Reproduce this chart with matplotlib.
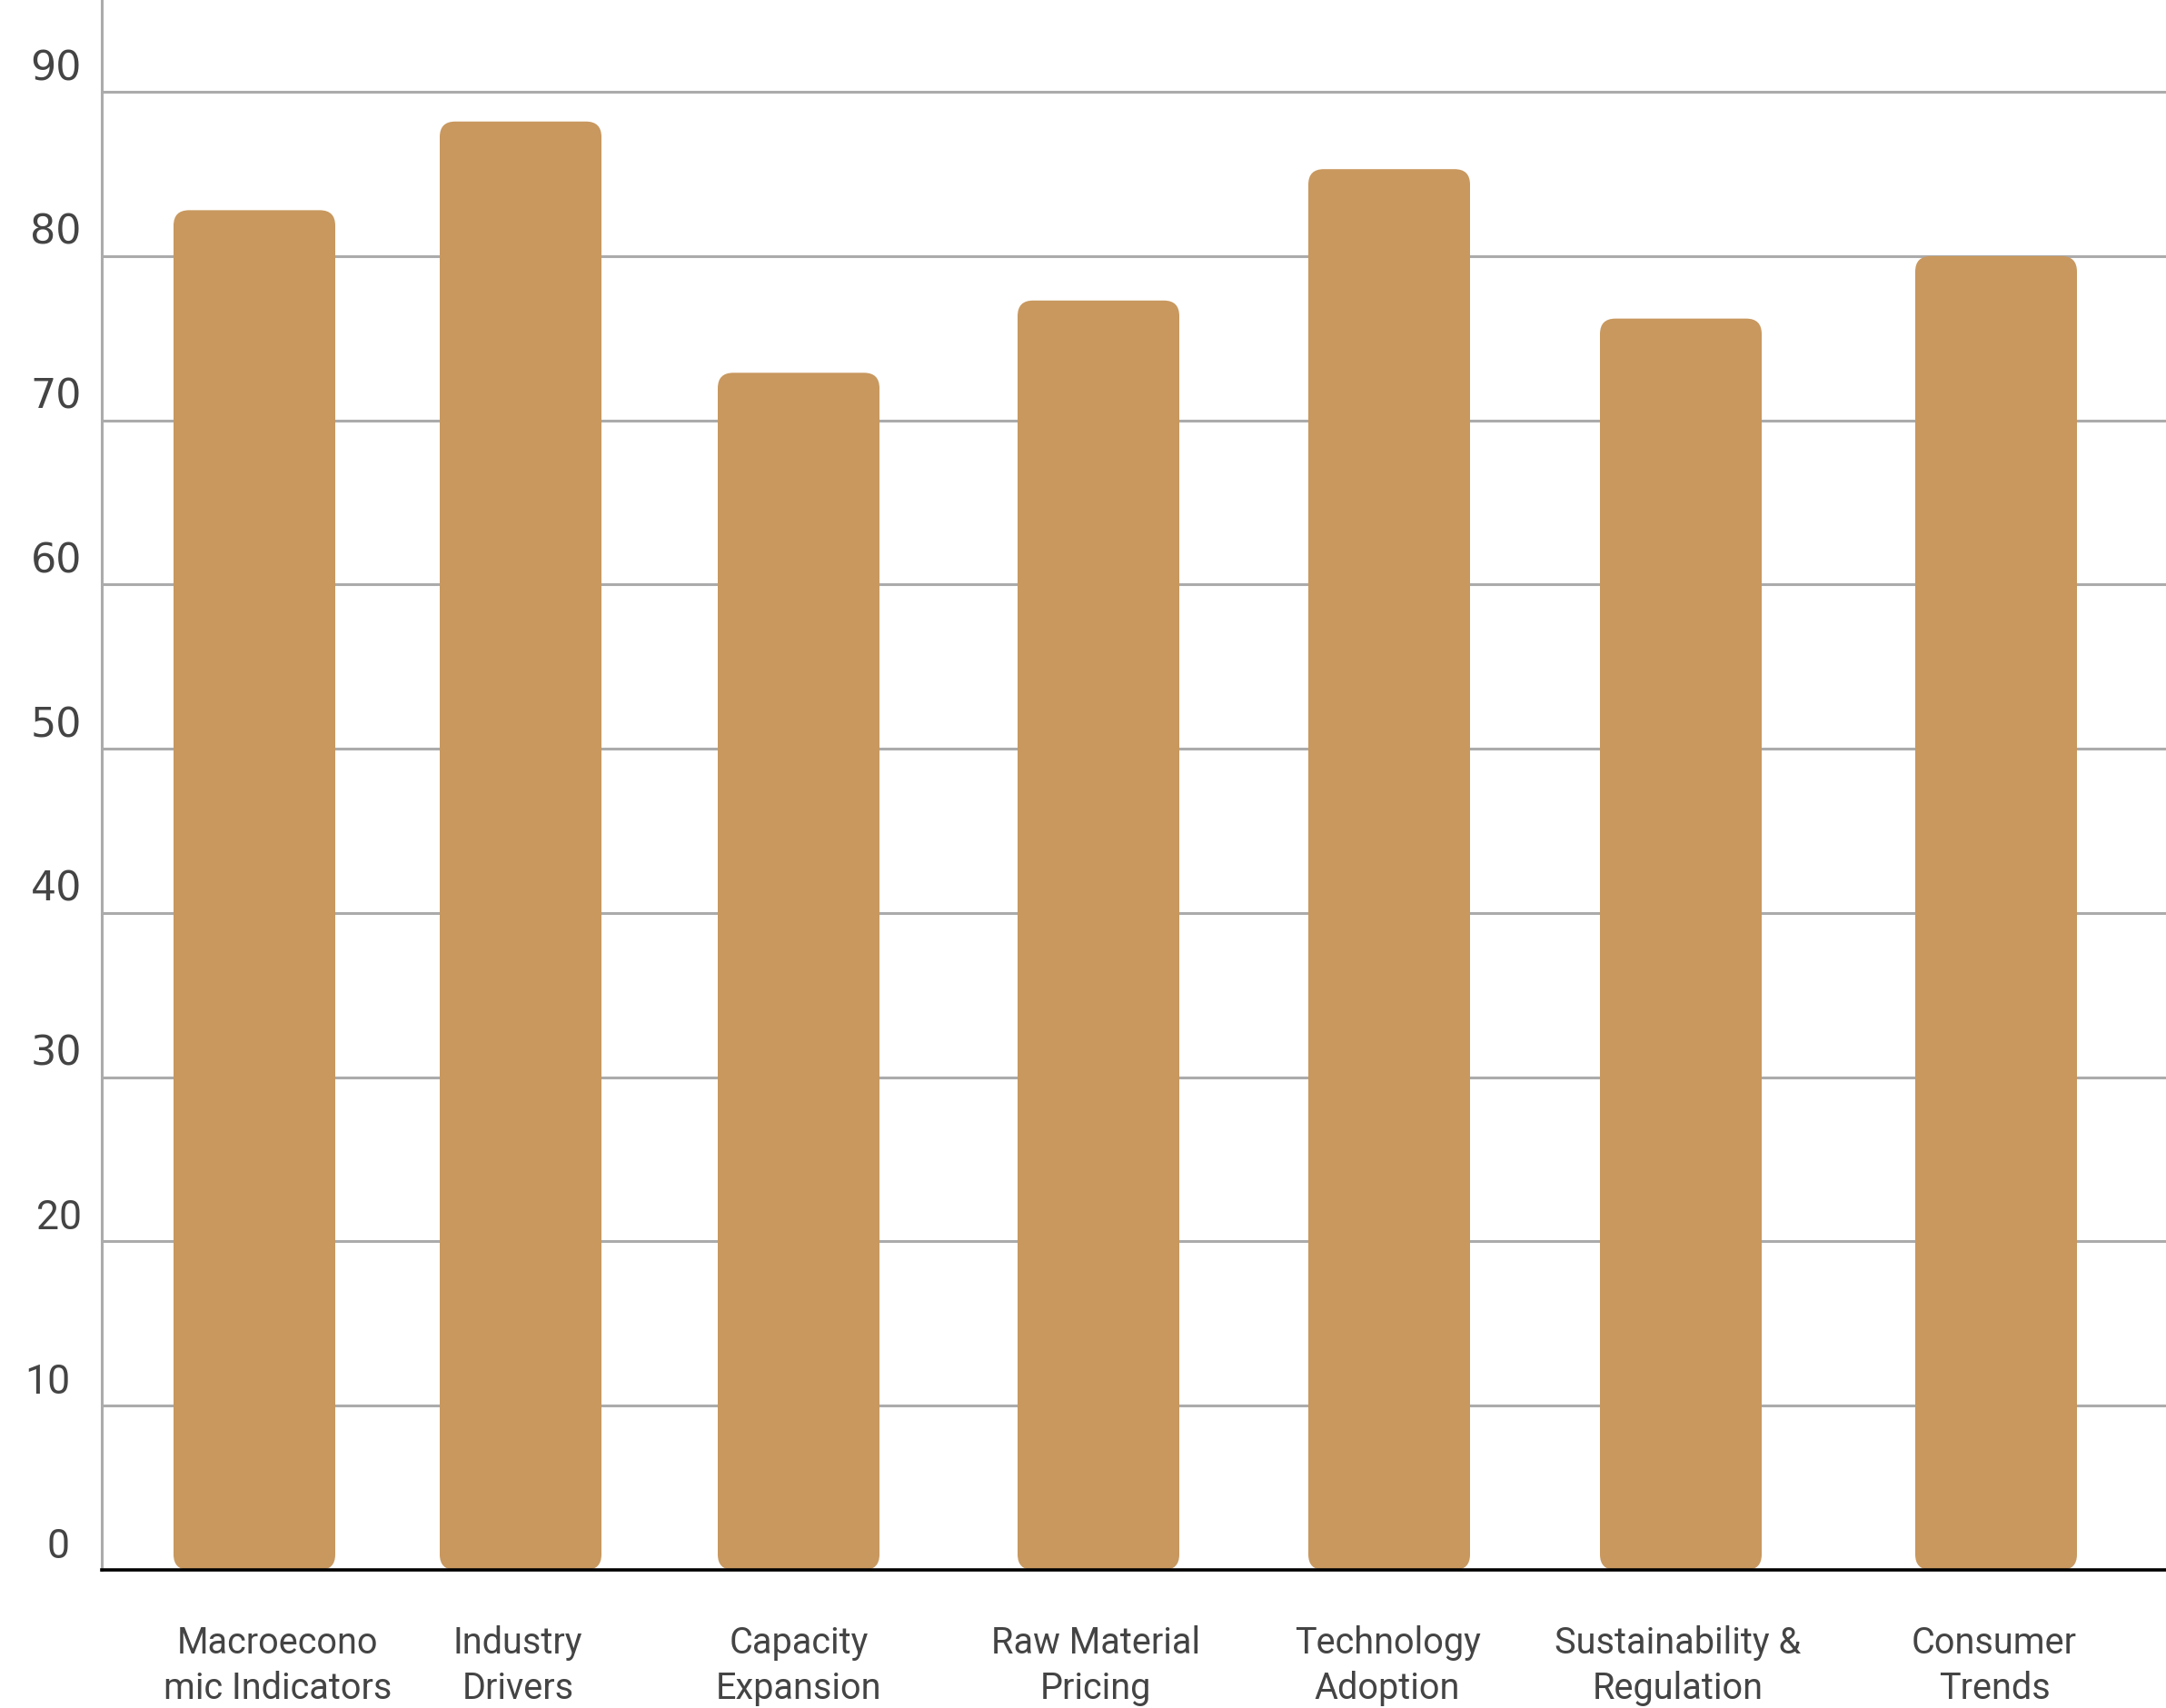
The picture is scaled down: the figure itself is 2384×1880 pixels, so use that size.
import matplotlib
matplotlib.use('Agg')
import matplotlib.pyplot as plt
from matplotlib.patches import FancyBboxPatch
import matplotlib.transforms as mtransforms

categories = ['Macroecono\nmic Indicators', 'Industry\nDrivers', 'Capacity\nExpansion',
              'Raw Material\nPricing', 'Technology\nAdoption', 'Sustainability &\nRegulation',
              'Consumer\nTrends']
values = [82.8, 88.2, 72.9, 77.3, 85.3, 76.2, 80.0]
yticks = [0, 10, 20, 30, 40, 50, 60, 70, 80, 90]

# layout (x in axes pixels)
bar_x = [168, 461, 767, 1097, 1417, 1738, 2085]
label_x = [194, 458, 767, 1094, 1415, 1735, 2083]
bar_w = 178
bar_color = '#C8985F'
grid_color = '#ababab'
text_color = '#444444'

W, H = 2384, 1880
fig = plt.figure(figsize=(W / 100, H / 100), dpi=100)
ax_left, ax_bottom = 112, 152
ax = fig.add_axes([ax_left / W, ax_bottom / H, 1 - ax_left / W, 1 - ax_bottom / H])
ax.set_xlim(0, W - ax_left)
ax.set_ylim(0, 95.6)

for s in ['top', 'right', 'bottom']:
    ax.spines[s].set_visible(False)
ax.spines['left'].set_color(grid_color)
ax.spines['left'].set_linewidth(2.2)
ax.set_xticks([])
ax.set_yticks([])

for t in yticks[1:]:
    ax.axhline(t, color=grid_color, lw=2.2, zorder=1)

# px per y unit
ppu = (H - ax_bottom) / 95.6
aspect = 1.0 / ppu
for x, v in zip(bar_x, values):
    p = FancyBboxPatch((x - bar_w / 2, 0), bar_w, v,
                       boxstyle='round,pad=0,rounding_size=17',
                       mutation_aspect=aspect, fc=bar_color, ec='none', zorder=2)
    ax.add_patch(p)

ax.axhline(0, color='black', lw=2.6, zorder=3, clip_on=False)

# y labels sit just above their gridlines
for t in yticks:
    fam = ['Roboto'] if t <= 20 else ['DejaVu Sans']
    dx = -35 if t in (0, 10) else -22
    off = mtransforms.offset_copy(ax.get_yaxis_transform(), fig=fig, x=dx, y=13, units='dots')
    ax.text(0, t, str(t), transform=off, ha='right', va='baseline',
            fontsize=32, color=text_color, family=fam)

for x, lab in zip(label_x, categories):
    ax.annotate(lab, xy=(x, 0), xycoords=('data', 'axes fraction'),
                xytext=(0, -44), textcoords='offset points',
                ha='center', va='top', fontsize=28.5, color=text_color,
                family=['Roboto'], linespacing=1.35, annotation_clip=False)

fig.savefig('out.png', dpi=100)
